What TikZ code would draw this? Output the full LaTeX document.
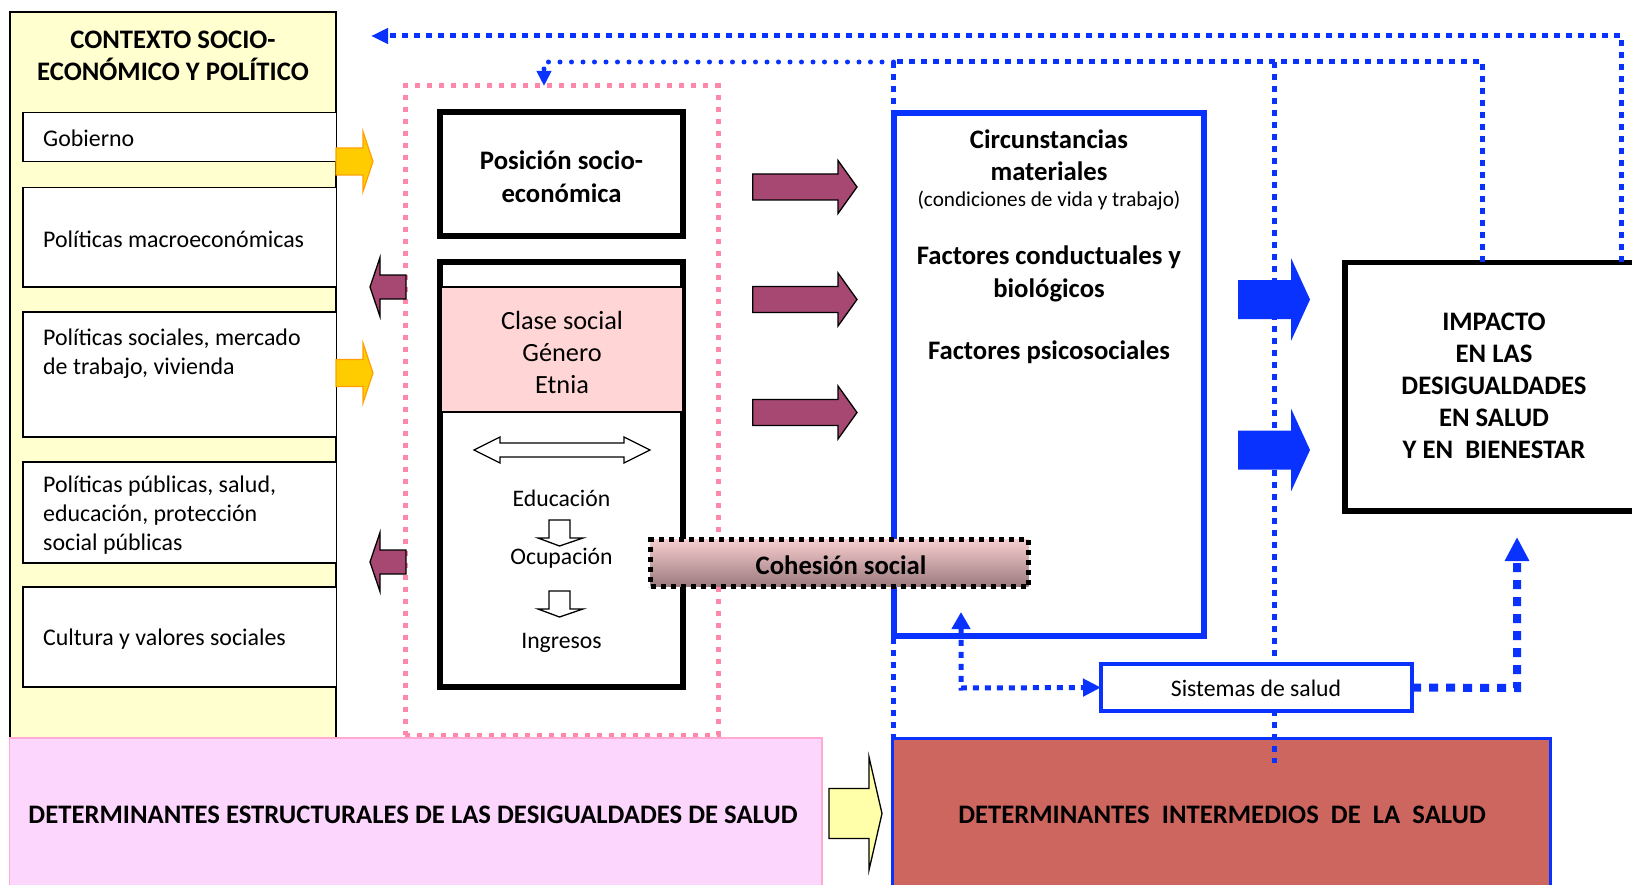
\documentclass[tikz,border=0pt]{standalone}
\usepackage{fontspec}
\setmainfont{Carlito}
\usetikzlibrary{arrows.meta}
\definecolor{cream}{RGB}{255,255,208}
\definecolor{goldf}{RGB}{255,204,0}
\definecolor{goldd}{RGB}{255,160,0}
\definecolor{purp}{RGB}{166,72,114}
\definecolor{pinkdot}{RGB}{255,136,170}
\definecolor{blu}{RGB}{10,50,255}
\definecolor{pinkfill}{RGB}{255,213,213}
\definecolor{botpink}{RGB}{252,214,252}
\definecolor{botpinkd}{RGB}{255,170,210}
\definecolor{redbox}{RGB}{205,102,95}
\definecolor{lyel}{RGB}{255,255,170}
\definecolor{cohtop}{RGB}{247,205,207}
\definecolor{cohbot}{RGB}{155,122,125}
\newcommand{\blkarrowH}[7]{\draw[#1] (#2,#5-#6) -- (#3,#5-#6) -- (#3,#5-#7) -- (#4,#5) -- (#3,#5+#7) -- (#3,#5+#6) -- (#2,#5+#6) -- cycle;}
\tikzset{
  box/.style={draw, inner sep=0pt, outer sep=0pt, anchor=north west},
  bt/.style={font=\fontsize{26.7}{32.5}\selectfont\bfseries, inner sep=0pt, align=center},
  rt/.style={font=\fontsize{23.9}{29}\selectfont, inner sep=0pt, align=left, anchor=west},
  ct/.style={font=\fontsize{26.3}{32}\selectfont, inner sep=0pt, align=center},
  st/.style={font=\fontsize{23.7}{29}\selectfont, inner sep=0pt, align=center},
  yarrow/.style={fill=goldf, draw=goldd, line width=1.2pt},
  parrow/.style={fill=purp, draw=black, line width=1.3pt},
  barrow/.style={fill=blu, draw=none},
  warrow/.style={fill=white, draw=black, line width=1.3pt},
  bdot/.style={draw=blu, line width=5pt, dash pattern=on 6pt off 6pt},
  bround/.style={draw=blu, line width=5pt, line cap=round, dash pattern=on 0pt off 11.5pt},
}
\begin{document}
\begin{tikzpicture}[x=1pt,y=-1pt]
\useasboundingbox (0,0) rectangle (1632,885);
\clip (0,0) rectangle (1632,885);

% left context panel
\node[box, fill=cream, line width=1.5pt, minimum width=326pt, minimum height=730pt] (ctx) at (10,12) {};
\node[bt, font=\fontsize{26.7}{32}\selectfont\bfseries] (ctxt) at (173,56) {CONTEXTO SOCIO-\\ECONÓMICO Y POLÍTICO};
\node[box, fill=white, line width=1.5pt, minimum width=313.5pt, minimum height=49pt] (gob) at (23,112.5) {};
\node[box, fill=white, line width=1.5pt, minimum width=313.5pt, minimum height=99.5pt] (mac) at (23,187.3) {};
\node[box, fill=white, line width=1.5pt, minimum width=313.5pt, minimum height=125pt] (soc) at (23,312) {};
\node[box, fill=white, line width=1.5pt, minimum width=313.5pt, minimum height=101pt] (pub) at (23,462) {};
\node[box, fill=white, line width=1.5pt, minimum width=313.5pt, minimum height=100pt] (cul) at (23,587) {};
\node[rt] (gobt) at (43,138.5) {Gobierno};
\node[rt] (mact) at (43,239.5) {Políticas macroeconómicas};
\node[rt] (soct) at (43,353.5) {Políticas sociales, mercado\\de trabajo, vivienda};
\node[rt] (pubt) at (43,515.5) {Políticas públicas, salud,\\educación, protección\\social públicas};
\node[rt] (cult) at (43,639.5) {Cultura y valores sociales};

% pink dotted frame
\node[box, draw=pinkdot, line width=5pt, dash pattern=on 5pt off 7pt, minimum width=313pt, minimum height=649pt] (struct) at (405,86) {};

% bottom boxes
\node[box, fill=botpink, draw=botpinkd, line width=1.5pt, minimum width=812.5pt, minimum height=160pt] (estr) at (9.5,738) {};
\node[bt] (estrt) at (413,815) {DETERMINANTES ESTRUCTURALES DE LAS DESIGUALDADES DE SALUD};
\node[box, fill=redbox, draw=blu, line width=3pt, minimum width=658pt, minimum height=160pt] (inter) at (892,738) {};
\node[bt] (intert) at (1222,815) {DETERMINANTES~~INTERMEDIOS~~DE~~LA~~SALUD};
\blkarrowH{fill=lyel, draw=black, line width=1.3pt}{829}{869}{882}{813.5}{25}{56.5}

% impact box
\node[box, fill=white, line width=5.5pt, minimum width=300pt, minimum height=248.5pt] (imp) at (1345,262.5) {};
\node[bt, font=\fontsize{26.7}{32}\selectfont\bfseries] (impt) at (1494,386) {IMPACTO\\EN LAS\\DESIGUALDADES\\EN SALUD\\Y EN~~BIENESTAR};

% blue dotted feedback lines
\coordinate (c1) at (1621,36);
\coordinate (c2) at (1482,62);
\coordinate (c3) at (893.5,62);
\coordinate (c4) at (1274,62);
\draw[bdot, -{Triangle[length=17pt,width=15pt]}] (1621,262.5) -- (c1) -- (371,36);
\draw[bdot] (1482,262.5) -- (c2) -- (c3);
\draw[bround, -{Triangle[length=15pt,width=14pt]}] (c3) -- (544,62) -- (544,86);
\draw[bdot] (c3) -- (893.5,738);
\draw[bdot] (c4) -- (1274,763);

% intermediate determinants box
\node[box, fill=white, draw=blu, line width=6pt, minimum width=310pt, minimum height=522pt] (circ) at (893.5,113.5) {};
\node[bt, font=\fontsize{26.7}{32}\selectfont\bfseries] (circt) at (1049,155.5) {Circunstancias\\materiales};
\node[st, font=\fontsize{21.2}{26}\selectfont] (condt) at (1049,201) {(condiciones de vida y trabajo)};
\node[bt, font=\fontsize{26.7}{33}\selectfont\bfseries] (condu) at (1049,273.5) {Factores conductuales y\\biológicos};
\node[bt] (psico) at (1049,352) {Factores psicosociales};

% socio-economic position
\node[box, fill=white, line width=6pt, minimum width=243pt, minimum height=124pt] (pos) at (440,112) {};
\node[bt, font=\fontsize{26.7}{33}\selectfont\bfseries] (post) at (561.5,176.5) {Posición socio-\\económica};
\node[box, fill=white, line width=6pt, minimum width=243pt, minimum height=425pt] (cls) at (440,262) {};
\node[box, fill=pinkfill, line width=1.2pt, minimum width=242pt, minimum height=125pt] (clsp) at (441,287) {};
\node[ct] (clst) at (562,352) {Clase social\\Género\\Etnia};
\draw[warrow] (474,450) -- (500,437) -- (500,443) -- (624,443) -- (624,437) -- (650,450) -- (624,463) -- (624,457) -- (500,457) -- (500,463) -- cycle;
\node[st] (edu) at (561.5,498) {Educación};
\draw[warrow] (549,520) -- (570,520) -- (570,538) -- (583,538) -- (559.5,546) -- (538,538) -- (549,538) -- cycle;
\node[st] (ocu) at (561.5,558) {Ocupación};
\draw[warrow] (549,591) -- (570,591) -- (570,609) -- (583,609) -- (559.5,617) -- (538,609) -- (549,609) -- cycle;
\node[st] (ing) at (561.5,643) {Ingresos};

% block arrows
\blkarrowH{yarrow}{336}{363}{373}{161.5}{13.5}{30}
\blkarrowH{yarrow}{336}{363}{373}{373}{13.5}{30}
\blkarrowH{parrow}{406}{380}{370}{287}{12}{29.5}
\blkarrowH{parrow}{406}{380}{370}{562}{12}{29.5}
\blkarrowH{parrow}{752.7}{838}{857}{187}{13}{26.5}
\blkarrowH{parrow}{752.7}{838}{857}{299.5}{13}{26.5}
\blkarrowH{parrow}{752.7}{838}{857}{412.5}{13}{26.5}
\blkarrowH{barrow}{1238}{1291}{1310}{299.5}{19.5}{41.5}
\blkarrowH{barrow}{1238}{1291}{1310}{450}{19.5}{41.5}

% health system
\node[box, fill=white, draw=blu, line width=4pt, minimum width=311pt, minimum height=47pt] (sis) at (1101,664) {};
\node[st] (sist) at (1256,688) {Sistemas de salud};
\coordinate (s1) at (961,688);
\coordinate (s2) at (1517,688);
\draw[bdot, {Triangle[length=17pt,width=18pt]}-{Triangle[length=18pt,width=17pt]}] (961,612) -- (s1) -- (sis.west);
\draw[draw=blu, line width=8pt, dash pattern=on 9pt off 8pt, -{Triangle[length=24pt,width=23pt]}] (sis.east) -- (s2) -- (1517,537);

% social cohesion
\node[box, top color=cohtop, bottom color=cohbot, draw=black, line width=5pt, dash pattern=on 5pt off 5pt, minimum width=378pt, minimum height=47pt] (coh) at (650.5,539.5) {};
\node[bt] (coht) at (841,565) {Cohesión social};
\end{tikzpicture}
\end{document}
